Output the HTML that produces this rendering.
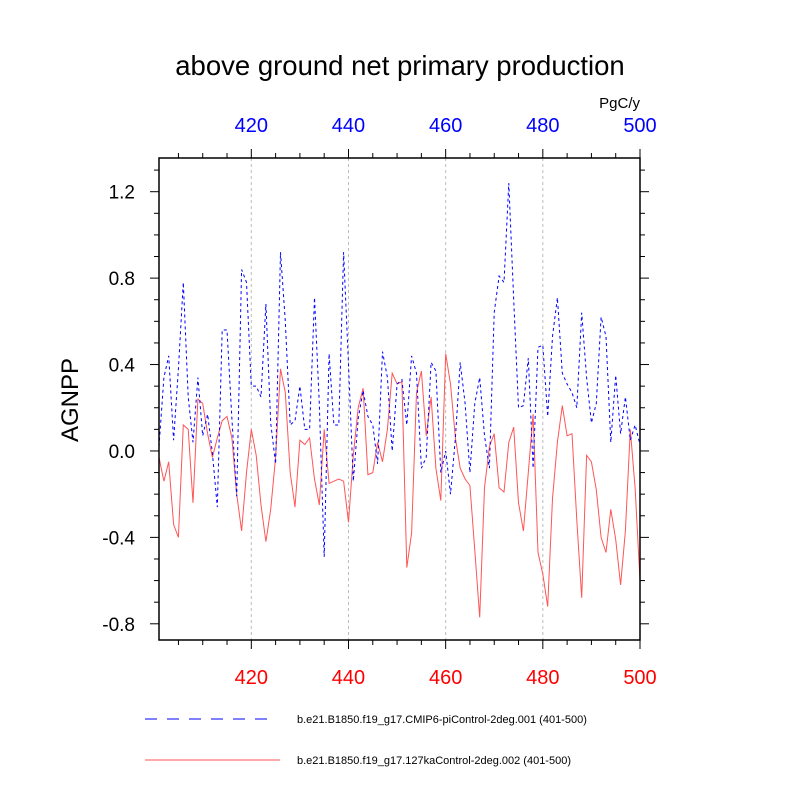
<!DOCTYPE html>
<html><head><meta charset="utf-8"><style>
body{margin:0;background:#fff;}
svg{display:block;font-family:"Liberation Sans",sans-serif;}
</style></head><body>
<svg id="chart" width="800" height="800">
<text x="400" y="75" font-size="27.5" text-anchor="middle">above ground net primary production</text>
<text x="640" y="108" font-size="15" text-anchor="end">PgC/y</text>
<text transform="translate(78,400) rotate(-90)" font-size="24" text-anchor="middle">AGNPP</text>
<g id="grid"></g><g id="series"></g><g id="axes"></g>
<g>
<line x1="145" y1="719" x2="275" y2="719" stroke="#00f" stroke-width="1" stroke-dasharray="12,10"/>
<text x="297" y="723" font-size="11">b.e21.B1850.f19_g17.CMIP6-piControl-2deg.001 (401-500)</text>
<line x1="145" y1="760" x2="280" y2="760" stroke="#f55" stroke-width="1"/>
<text x="297" y="764" font-size="11">b.e21.B1850.f19_g17.127kaControl-2deg.002 (401-500)</text>
</g>
</svg>
<script>
const years = Array.from({length:100},(_,i)=>401+i);
const piControl = [0.02,0.34,0.44,0.05,0.38,0.78,0.25,0.04,0.34,0.07,0.17,-0.01,-0.26,0.56,0.56,0.15,-0.21,0.84,0.78,0.3,
0.3,0.25,0.68,0.13,-0.06,0.92,0.6,0.12,0.14,0.3,0.1,0.1,0.71,0.22,-0.49,0.45,0.12,0.12,0.92,0.4,
-0.14,0.15,0.28,0.16,0.12,-0.06,0.46,0.34,0.0,0.31,0.33,0.12,0.44,0.36,-0.08,-0.03,0.41,0.37,-0.1,0.0,
-0.2,0.06,0.41,0.22,-0.1,0.22,0.34,0.07,-0.08,0.64,0.81,0.78,1.24,0.7,0.2,0.21,0.43,-0.08,0.48,0.49,
0.16,0.53,0.71,0.36,0.31,0.27,0.2,0.64,0.34,0.13,0.22,0.62,0.53,0.04,0.35,0.08,0.25,0.05,0.12,0.03];
const ka127 = [-0.03,-0.14,-0.05,-0.34,-0.4,0.12,0.1,-0.24,0.24,0.22,0.08,-0.03,0.06,0.14,0.16,0.06,-0.2,-0.37,-0.1,0.1,
-0.02,-0.25,-0.42,-0.27,-0.03,0.38,0.27,-0.1,-0.26,0.05,0.03,0.06,-0.13,-0.25,0.1,-0.15,-0.14,-0.13,-0.14,-0.33,
-0.02,0.2,0.29,-0.11,-0.1,0.04,-0.05,0.1,0.36,0.31,0.32,-0.54,-0.38,0.27,0.37,0.07,0.25,-0.08,-0.23,0.45,
0.31,0.06,-0.08,-0.13,-0.16,-0.46,-0.77,-0.17,0.02,0.08,-0.17,-0.19,0.04,0.11,-0.24,-0.37,-0.1,0.17,-0.47,-0.57,
-0.72,-0.22,0.04,0.21,0.07,0.08,-0.32,-0.68,-0.02,-0.05,-0.18,-0.4,-0.47,-0.27,-0.41,-0.62,-0.37,0.1,-0.17,-0.6];
const yTicks = [1.2,0.8,0.4,0.0,-0.4,-0.8];
const yTickLabels = ["1.2","0.8","0.4","0.0","-0.4","-0.8"];
const xTicks = [420,440,460,480,500];
const NS="http://www.w3.org/2000/svg";
const L=159,R=640,T=158,B=640;
const xMin=401,xMax=500,yMin=-0.875,yMax=1.356;
const X=v=>L+(v-xMin)/(xMax-xMin)*(R-L);
const Y=v=>B-(v-yMin)/(yMax-yMin)*(B-T);
function mk(tag,attrs,parent){const e=document.createElementNS(NS,tag);for(const k in attrs)e.setAttribute(k,attrs[k]);parent.appendChild(e);return e;}
const grid=document.getElementById('grid'),series=document.getElementById('series'),axes=document.getElementById('axes');
xTicks.slice(0,4).forEach(t=>{const g=mk('line',{x1:X(t),x2:X(t),y1:T,y2:B,stroke:'#bbb','stroke-width':1,'stroke-dasharray':'3,3'},grid);

});
function path(vals,color,dash,name){
 const d=vals.map((v,i)=>(i?'L':'M')+X(years[i]).toFixed(1)+','+Y(v).toFixed(1)).join('');
 const p=mk('path',{d:d,fill:'none',stroke:color,'stroke-width':1},series);
 if(dash)p.setAttribute('stroke-dasharray',dash);
 
 
}
path(ka127,'#f55',null,'line-127kaControl');
path(piControl,'#00f','3,3','line-piControl');
const fr=mk('rect',{x:L,y:T,width:R-L,height:B-T,fill:'none',stroke:'#000','stroke-width':1.5},axes);


for(let v=-0.8;v<=1.31;v+=0.1){const y=Y(v);const maj=Math.abs(Math.round(v*10)%4)===0;const len=maj?9:5;
 mk('line',{x1:L-len,x2:L,y1:y,y2:y,stroke:'#000'},axes);mk('line',{x1:R,x2:R+len,y1:y,y2:y,stroke:'#000'},axes);}
for(let t=405;t<=500;t+=5){const x=X(t);const maj=t%20===0;const len=maj?9:5;
 mk('line',{x1:x,x2:x,y1:T-len,y2:T,stroke:'#000'},axes);mk('line',{x1:x,x2:x,y1:B,y2:B+len,stroke:'#000'},axes);}
yTicks.forEach((v,i)=>{const t=mk('text',{x:135,y:Y(v)+7,'font-size':19,'text-anchor':'end'},axes);t.textContent=yTickLabels[i];

});
xTicks.forEach(v=>{const a=mk('text',{x:X(v),y:132,'font-size':20,'text-anchor':'middle',fill:'#00f'},axes);a.textContent=v;


const b=mk('text',{x:X(v),y:684,'font-size':20,'text-anchor':'middle',fill:'#f00'},axes);b.textContent=v;

});
</script>
</body></html>
